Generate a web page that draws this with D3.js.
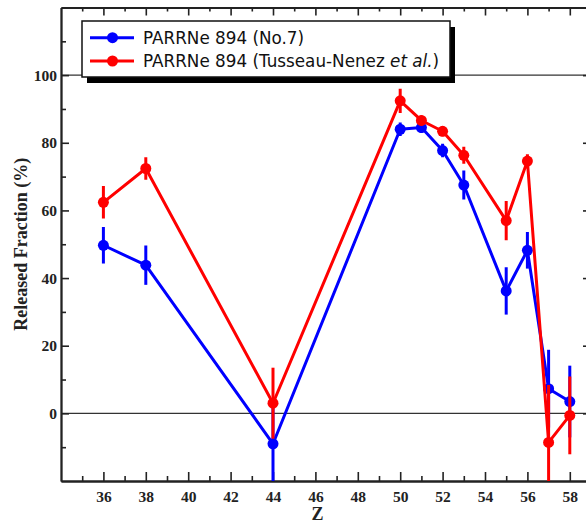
<!DOCTYPE html>
<html>
<head>
<meta charset="utf-8">
<script src="https://cdn.jsdelivr.net/npm/d3@7"></script>
<style>
  html, body { margin: 0; padding: 0; background: #fff; }
  svg { display: block; }
</style>
</head>
<body>
<svg id="chart" width="586" height="524"></svg>
<script>
// ---- data ----
const zValues = [36, 38, 44, 50, 51, 52, 53, 55, 56, 57, 58];
const blueValues = [49.7, 43.8, -9.0, 84.0, 84.5, 77.7, 67.5, 36.2, 48.2, 7.3, 3.5];
const blueErrors = [5.4, 5.8, 11.0, 2.0, 1.5, 2.0, 4.3, 7.0, 5.4, 11.5, 10.6];
const redValues = [62.4, 72.4, 3.0, 92.4, 86.6, 83.4, 76.3, 57.0, 74.6, -8.6, -0.6];
const redErrors = [4.8, 3.3, 10.5, 3.6, 1.5, 1.5, 2.5, 5.8, 2.0, 17.0, 11.5];
const seriesNames = ["PARRNe 894 (No.7)", "PARRNe 894 (Tusseau-Nenez "];
const xMajorTicks = [36, 38, 40, 42, 44, 46, 48, 50, 52, 54, 56, 58];
const xMinorTicks = [35, 37, 39, 41, 43, 45, 47, 49, 51, 53, 55, 57];
const yMajorTicks = [0, 20, 40, 60, 80, 100];
const yMinorTicks = [-10, 10, 30, 50, 70, 90, 110];
const refLines = [0, 100];

// ---- layout ----
const svg = d3.select("#chart");
const L = 61, R = 591, T = 7.5, B = 481;
const x = d3.scaleLinear().domain([34, 59]).range([L, R]);
const y = d3.scaleLinear().domain([-20, 120]).range([B, T]);
const axisColor = "#222";
const blue = "#0000ff", red = "#ff0000";

svg.append("defs").append("clipPath").attr("id", "plotClip")
  .append("rect").attr("x", L).attr("y", T).attr("width", R - L).attr("height", B - T);

// reference lines
svg.append("g").selectAll("line").data(refLines).join("line")
  .attr("x1", L).attr("x2", R)
  .attr("y1", d => y(d)).attr("y2", d => y(d))
  .attr("stroke", "#333").attr("stroke-width", 1.3);

// ---- axes ----
function styleAxis(g) {
  g.select(".domain").attr("stroke", axisColor).attr("stroke-width", 1.8);
  g.selectAll(".tick line").attr("stroke", axisColor).attr("stroke-width", 1.6);
  g.selectAll("text").attr("font-family", "'Liberation Serif', 'Times New Roman', serif")
    .attr("font-weight", "bold").attr("font-size", 15.5).attr("fill", "#222");
}
// bottom
svg.append("g").attr("transform", `translate(0,${B})`)
  .call(d3.axisBottom(x).tickValues(xMajorTicks).tickSize(-9).tickPadding(10).tickSizeOuter(0))
  .call(styleAxis);
svg.append("g").attr("transform", `translate(0,${B})`)
  .call(d3.axisBottom(x).tickValues(xMinorTicks).tickSize(-5).tickFormat("").tickSizeOuter(0))
  .call(styleAxis);
// top
svg.append("g").attr("transform", `translate(0,${T})`)
  .call(d3.axisTop(x).tickValues(xMajorTicks).tickSize(-8).tickFormat("").tickSizeOuter(0))
  .call(styleAxis);
svg.append("g").attr("transform", `translate(0,${T})`)
  .call(d3.axisTop(x).tickValues(xMinorTicks).tickSize(-4).tickFormat("").tickSizeOuter(0))
  .call(styleAxis);
// left
svg.append("g").attr("transform", `translate(${L},0)`)
  .call(d3.axisLeft(y).tickValues(yMajorTicks).tickSize(-8).tickPadding(4).tickSizeOuter(0))
  .call(styleAxis);
svg.append("g").attr("transform", `translate(${L},0)`)
  .call(d3.axisLeft(y).tickValues(yMinorTicks).tickSize(-5).tickFormat("").tickSizeOuter(0))
  .call(styleAxis);
// right
svg.append("g").attr("transform", `translate(${R},0)`)
  .call(d3.axisRight(y).tickValues(yMajorTicks).tickSize(-8).tickFormat("").tickSizeOuter(0))
  .call(styleAxis);
svg.append("g").attr("transform", `translate(${R},0)`)
  .call(d3.axisRight(y).tickValues(yMinorTicks).tickSize(-5).tickFormat("").tickSizeOuter(0))
  .call(styleAxis);

// axis titles
svg.append("text").attr("x", x(46.1)).attr("y", 520)
  .attr("text-anchor", "middle")
  .attr("font-family", "'Liberation Serif', 'Times New Roman', serif")
  .attr("font-weight", "bold").attr("font-size", 18).attr("fill", "#222")
  .text("Z");
svg.append("text")
  .attr("transform", `translate(27,${(T + B) / 2}) rotate(-90)`)
  .attr("text-anchor", "middle")
  .attr("font-family", "'Liberation Serif', 'Times New Roman', serif")
  .attr("font-weight", "bold").attr("font-size", 18).attr("fill", "#222")
  .text("Released Fraction (%)");

// ---- data ----
const plot = svg.append("g").attr("clip-path", "url(#plotClip)");
function drawSeries(vals, errs, color) {
  const pts = zValues.map((z, i) => ({ z, v: vals[i], e: errs[i] }));
  const g = plot.append("g");
  g.selectAll("line.err").data(pts).join("line").attr("class", "err")
    .attr("x1", d => x(d.z)).attr("x2", d => x(d.z))
    .attr("y1", d => y(d.v - d.e)).attr("y2", d => y(d.v + d.e))
    .attr("stroke", color).attr("stroke-width", 3);
  g.append("path").datum(pts)
    .attr("d", d3.line().x(d => x(d.z)).y(d => y(d.v)))
    .attr("fill", "none").attr("stroke", color).attr("stroke-width", 3)
    .attr("stroke-linejoin", "round");
  g.selectAll("circle").data(pts).join("circle")
    .attr("cx", d => x(d.z)).attr("cy", d => y(d.v)).attr("r", 5.5)
    .attr("fill", color);
}
drawSeries(blueValues, blueErrors, blue);
drawSeries(redValues, redErrors, red);

// ---- legend ----
const lg = svg.append("g");
lg.append("rect").attr("x", 87).attr("y", 27).attr("width", 368).attr("height", 56).attr("fill", "#000");
lg.append("rect").attr("x", 82).attr("y", 21).attr("width", 368).attr("height", 56)
  .attr("fill", "#fff").attr("stroke", "#111").attr("stroke-width", 1.5);
const legendItems = [
  { name: seriesNames[0], color: blue, italic: null, tail: "" },
  { name: seriesNames[1], color: red, italic: "et al.", tail: ")" }
];
legendItems.forEach((it, i) => {
  const cy = 37.7 + i * 23.3;
  lg.append("line").attr("x1", 90).attr("x2", 134).attr("y1", cy).attr("y2", cy)
    .attr("stroke", it.color).attr("stroke-width", 3);
  lg.append("circle").attr("cx", 112.5).attr("cy", cy).attr("r", 5.5).attr("fill", it.color);
  const t = lg.append("text").attr("x", 143).attr("y", cy + 6)
    .attr("font-family", "'DejaVu Sans', Verdana, sans-serif").attr("font-size", 16.8)
    .attr("fill", "#111");
  t.append("tspan").text(it.name);
  if (it.italic) {
    t.append("tspan").attr("font-style", "italic").text(it.italic);
    t.append("tspan").text(it.tail);
  }
});
</script>
</body>
</html>
